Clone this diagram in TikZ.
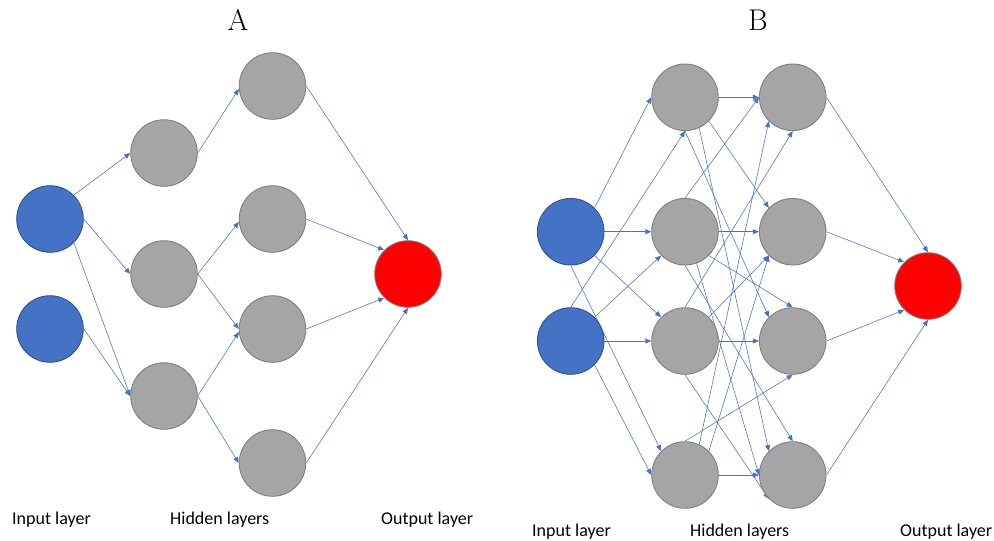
\documentclass[tikz,border=0pt]{standalone}
\usepackage{fontspec}
\newfontfamily\labelfont{Carlito}
\usetikzlibrary{arrows.meta}
\pgfdeclarelayer{background}
\pgfsetlayers{background,main}
\definecolor{inblue}{HTML}{4472C4}
\definecolor{inedge}{HTML}{2F528F}
\definecolor{hidgray}{HTML}{A5A5A5}
\definecolor{hidedge}{HTML}{7F7F7F}
\definecolor{linkblue}{HTML}{4472C4}

\begin{document}
\begin{tikzpicture}[x=1pt,y=-1pt,
  neuron/.style={circle,minimum size=66.6pt,inner sep=0pt,line width=0.9pt},
  inputn/.style={neuron,fill=inblue,draw=inedge},
  hiddenn/.style={neuron,fill=hidgray,draw=hidedge},
  outputn/.style={neuron,fill=red,draw=hidedge},
  link/.style={draw=linkblue,line width=0.55pt,-{Triangle[length=6pt,width=5pt]}},
  caption/.style={font=\labelfont\fontsize{18}{20}\selectfont,anchor=base west,inner sep=0pt},
  paneltitle/.style={font=\fontsize{30}{36}\selectfont,inner sep=0pt}
]
\useasboundingbox (0,0) rectangle (994,541);

% ---------------- Network A ----------------
\node[paneltitle] (titleA) at (238,20) {A};
\node[inputn]  (aI1) at (50,219) {};
\node[inputn]  (aI2) at (50,329) {};
\node[hiddenn] (aH1) at (164,153) {};
\node[hiddenn] (aH2) at (164,274) {};
\node[hiddenn] (aH3) at (164,396) {};
\node[hiddenn] (aG1) at (272.5,86) {};
\node[hiddenn] (aG2) at (272.5,219) {};
\node[hiddenn] (aG3) at (272.5,329) {};
\node[hiddenn] (aG4) at (272.5,463) {};
\node[outputn] (aO)  at (408,274) {};

\begin{pgfonlayer}{background}
\draw[link] (aI1.45)  -- (aH1.180);
\draw[link] (aI1.0)   -- (aH2.180);
\draw[link] (aI1.-45) -- (aH3.180);
\draw[link] (aI2.0)   -- (aH3.180);
\draw[link] (aH1.0)   -- (aG1.185);
\draw[link] (aH2.0)   -- (aG2.185);
\draw[link] (aH2.0)   -- (aG3.180);
\draw[link] (aH3.0)   -- (aG3.185);
\draw[link] (aH3.0)   -- (aG4.180);
\draw[link] (aG1.0)   -- (aO.90);
\draw[link] (aG2.0)   -- (aO.135);
\draw[link] (aG3.0)   -- (aO.-135);
\draw[link] (aG4.0)   -- (aO.-90);
\end{pgfonlayer}

\node[caption] (aLin)  at (12,524)  {Input layer};
\node[caption] (aLhid) at (170,524) {Hidden layers};
\node[caption] (aLout) at (381,524) {Output layer};

% ---------------- Network B ----------------
\node[paneltitle] (titleB) at (758,20) {B};
\node[inputn]  (bI1) at (570.7,231.7) {};
\node[inputn]  (bI2) at (570.7,341) {};
\node[hiddenn] (bH1) at (685,97.3) {};
\node[hiddenn] (bH2) at (685,231.7) {};
\node[hiddenn] (bH3) at (685,341) {};
\node[hiddenn] (bH4) at (685,475) {};
\node[hiddenn] (bG1) at (792.7,97.3) {};
\node[hiddenn] (bG2) at (792.7,231.7) {};
\node[hiddenn] (bG3) at (792.7,341) {};
\node[hiddenn] (bG4) at (792.7,475) {};
\node[outputn] (bO)  at (928,286) {};

\begin{pgfonlayer}{background}
% input layer to first hidden layer
\draw[link] (bI1.45)  -- (bH1.180);
\draw[link] (bI1.0)   -- (bH2.180);
\draw[link] (bI1.-45) -- (bH3.135);
\draw[link] (bI1.-90) -- (bH4.135);
\draw[link] (bI2.90)  -- (bH1.-90);
\draw[link] (bI2.45)  -- (bH2.-135);
\draw[link] (bI2.0)   -- (bH3.180);
\draw[link] (bI2.-45) -- (bH4.180);
% first hidden layer to second hidden layer
\draw[link] (bH1.0)   -- (bG1.180);
\draw[link] (bH1.-45) -- (bG2.135);
\draw[link] (bH1.-90) -- (bG3.135);
\draw[link] (bH1.-65) -- (bG4.135);
\draw[link] (bH2.90)  -- (bG1.180);
\draw[link] (bH2.0)   -- (bG2.180);
\draw[link] (bH2.-45) -- (bG3.90);
\draw[link] (bH2.-90) -- (bG4.90);
\draw[link] (bH2.-70) -- (bG4.180);
\draw[link] (bH3.90)  -- (bG1.-90);
\draw[link] (bH3.45)  -- (bG2.-135);
\draw[link] (bH3.0)   -- (bG3.180);
\draw[link] (bH3.-90) -- (bG4.-135);
\draw[link] (bH4.90)  -- (bG3.-90);
\draw[link] (bH4.65)  -- (bG1.-135);
\draw[link] (bH4.45)  -- (bG2.-135);
\draw[link] (bH4.0)   -- (bG4.180);
% second hidden layer to output
\draw[link] (bG1.0)   -- (bO.90);
\draw[link] (bG2.0)   -- (bO.135);
\draw[link] (bG3.0)   -- (bO.-135);
\draw[link] (bG4.0)   -- (bO.-90);
\end{pgfonlayer}

\node[caption] (bLin)  at (532,536) {Input layer};
\node[caption] (bLhid) at (690,536) {Hidden layers};
\node[caption] (bLout) at (900,536) {Output layer};
\end{tikzpicture}
\end{document}
